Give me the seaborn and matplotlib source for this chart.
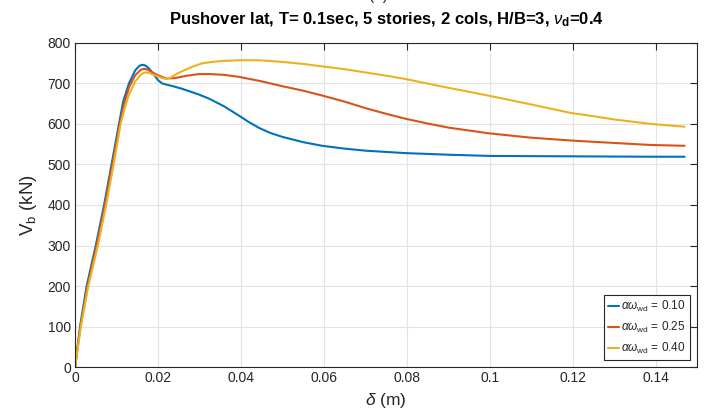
import numpy as np
import pandas as pd
import matplotlib
matplotlib.use("Agg")
import matplotlib.pyplot as plt
import seaborn as sns

# Pushover curves: roof drift (m) vs base shear (kN)
delta_010 = [0, 0.0012, 0.0028, 0.005, 0.007, 0.0088, 0.0106, 0.0116, 0.013, 0.0145,
             0.0155, 0.0162, 0.017, 0.018, 0.019, 0.020, 0.021, 0.022, 0.024, 0.026,
             0.030, 0.0324, 0.036, 0.0396, 0.042, 0.0444, 0.047, 0.050, 0.055, 0.0596,
             0.065, 0.070, 0.0796, 0.090, 0.100, 0.120, 0.139, 0.147]
vb_010 = [0, 100, 200, 300, 400, 500, 600, 655, 700, 732,
          743, 746, 744, 735, 722, 708, 700, 697, 692, 686,
          672, 662, 643, 620, 604, 590, 578, 568, 555, 546,
          539, 534, 528, 524, 521, 520, 519, 519]

delta_025 = [0, 0.0013, 0.003, 0.0052, 0.0072, 0.009, 0.0108, 0.0118, 0.013, 0.0145,
             0.0158, 0.0166, 0.0175, 0.0185, 0.020, 0.022, 0.024, 0.027, 0.030, 0.0324,
             0.036, 0.0396, 0.045, 0.050, 0.055, 0.0596, 0.065, 0.070, 0.075, 0.0796,
             0.085, 0.090, 0.0996, 0.110, 0.1196, 0.130, 0.1389, 0.147]
vb_025 = [0, 100, 200, 300, 400, 500, 600, 648, 690, 720,
          733, 736, 734, 728, 720, 712, 713, 719, 723, 723,
          721, 716, 705, 693, 682, 670, 655, 639, 625, 613,
          601, 591, 577, 566, 559, 553, 548, 546]

delta_040 = [0, 0.0014, 0.0032, 0.0055, 0.0075, 0.0093, 0.011, 0.012, 0.013, 0.0145,
             0.016, 0.0169, 0.0178, 0.019, 0.020, 0.021, 0.022, 0.023, 0.025, 0.028,
             0.0308, 0.035, 0.0396, 0.0444, 0.050, 0.055, 0.0596, 0.065, 0.070, 0.075,
             0.0796, 0.0876, 0.0996, 0.110, 0.115, 0.1196, 0.125, 0.130, 0.1389, 0.147]
vb_040 = [0, 100, 200, 300, 400, 500, 600, 640, 672, 705,
          723, 727, 726, 721, 717, 713, 711, 714, 726, 740,
          750, 755, 757, 757, 753, 748, 742, 735, 727, 719,
          711, 694, 670, 648, 637, 627, 619, 611, 600, 593]

labels = [r"$\alpha\omega_{\rm wd}$ = 0.10",
          r"$\alpha\omega_{\rm wd}$ = 0.25",
          r"$\alpha\omega_{\rm wd}$ = 0.40"]
colors = ["#0072BD", "#D95319", "#EDB120"]

frames = []
for lab, d, v in zip(labels, [delta_010, delta_025, delta_040], [vb_010, vb_025, vb_040]):
    frames.append(pd.DataFrame({"delta": d, "Vb": v, "series": lab}))
df = pd.concat(frames, ignore_index=True)

sns.set_theme(style="whitegrid")
plt.rcParams["font.family"] = ["Liberation Sans", "DejaVu Sans"]
plt.rcParams["mathtext.fontset"] = "custom"
plt.rcParams["mathtext.rm"] = "Liberation Sans"
plt.rcParams["mathtext.it"] = "Liberation Sans:italic"
plt.rcParams["mathtext.bf"] = "Liberation Sans:bold"

fig = plt.figure(figsize=(7.08, 4.12), dpi=100)
ax = fig.add_axes([0.106, 0.109, 0.8785, 0.787])

sns.lineplot(data=df, x="delta", y="Vb", hue="series", palette=colors,
             sort=False, estimator=None, linewidth=1.5, ax=ax)

ax.set_xlim(0, 0.15)
ax.set_ylim(0, 800)
ax.set_xticks(np.arange(0, 0.141, 0.02))
ax.set_xticklabels(["0", "0.02", "0.04", "0.06", "0.08", "0.1", "0.12", "0.14"])
ax.set_yticks(np.arange(0, 801, 100))

ax.grid(True, color="#e3e3e3", linewidth=0.8)
for s in ax.spines.values():
    s.set_color("#262626")
    s.set_linewidth(0.8)
ax.tick_params(axis="both", direction="in", length=5, width=0.8, color="#262626",
               labelsize=10, labelcolor="#262626", top=True, right=True, pad=3)

ax.set_xlabel(r"$\delta$ (m)", fontsize=12.5, color="#262626", labelpad=4)
ax.set_ylabel(r"V$_{\rm b}$ (kN)", fontsize=13.5, color="#262626", labelpad=6)
ax.set_title(r"Pushover lat, T= 0.1sec, 5 stories, 2 cols, H/B=3, $\nu_{\mathbf{d}}$=0.4",
             fontsize=12, fontweight="bold", color="black", pad=13)

leg = ax.legend(loc="lower right", fontsize=8.5, frameon=True, fancybox=False,
                handlelength=1.0, handletextpad=0.15, borderpad=0.35,
                labelspacing=0.5, borderaxespad=0.6)
leg.get_frame().set_edgecolor("#262626")
leg.get_frame().set_linewidth(0.8)
leg.get_frame().set_alpha(1.0)

fig.text(0.535, 1.01, "(a)", fontsize=11, ha="center", va="center", color="#262626")

fig.savefig("out.png", dpi=100)
